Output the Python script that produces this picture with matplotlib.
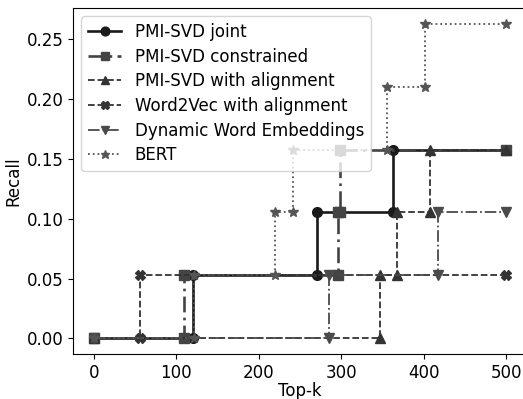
import numpy as np
import matplotlib
matplotlib.use('Agg')
import matplotlib.pyplot as plt

N = 19.0  # recall denominator

# x = rank (Top-k), y = number of hits found so far
joint_k = [0, 120, 120, 271, 271, 363, 363, 500]
joint_hits = [0, 0, 1, 1, 2, 2, 3, 3]

constr_k = [0, 110, 110, 296, 296, 299, 299, 500]
constr_hits = [0, 0, 1, 1, 2, 2, 3, 3]

align_k = [0, 347, 347, 367, 367, 408, 408, 500]
align_hits = [0, 0, 1, 1, 2, 2, 3, 3]

w2v_k = [0, 56, 56, 500]
w2v_hits = [0, 0, 1, 1]

dwe_k = [0, 285, 285, 417, 417, 500]
dwe_hits = [0, 0, 1, 1, 2, 2]

bert_k = [0, 121, 121, 220, 220, 242, 242, 355, 355, 401, 401, 500]
bert_hits = [0, 0, 1, 1, 2, 2, 3, 3, 4, 4, 5, 5]

series = [
    ('PMI-SVD joint', joint_k, joint_hits, 'o', '-', '#1a1a1a', 1.9),
    ('PMI-SVD constrained', constr_k, constr_hits, 's', (0, (6, 2, 1, 2)), '#444444', 1.9),
    ('PMI-SVD with alignment', align_k, align_hits, '^', '--', '#333333', 1.3),
    ('Word2Vec with alignment', w2v_k, w2v_hits, 'X', '--', '#333333', 1.3),
    ('Dynamic Word Embeddings', dwe_k, dwe_hits, 'v', '-.', '#4a4a4a', 1.3),
    ('BERT', bert_k, bert_hits, '*', ':', '#555555', 1.3),
]

fig = plt.figure(figsize=(5.23, 3.99), dpi=100)
ax = fig.add_axes([73 / 523, 45 / 399, 454 / 523, 346 / 399])

for label, k, hits, marker, ls, color, lw in series:
    ax.plot(k, np.array(hits) / N, label=label, marker=marker, linestyle=ls,
            color=color, linewidth=lw, markersize=7)

ax.set_xlim(-25, 525)
ax.set_ylim(-0.01316, 0.2763)
ax.set_xticks([0, 100, 200, 300, 400, 500])
ax.set_yticks([0.0, 0.05, 0.10, 0.15, 0.20, 0.25])
ax.set_yticklabels(['0.00', '0.05', '0.10', '0.15', '0.20', '0.25'])
ax.tick_params(labelsize=12)
ax.set_xlabel('Top-k', fontsize=12, labelpad=0)
ax.set_ylabel('Recall', fontsize=12, labelpad=3)
ax.legend(loc='upper left', fontsize=12, handlelength=2.0, borderaxespad=0.5,
          labelspacing=0.4, markerscale=0.9)

fig.savefig('out.png', dpi=100)
